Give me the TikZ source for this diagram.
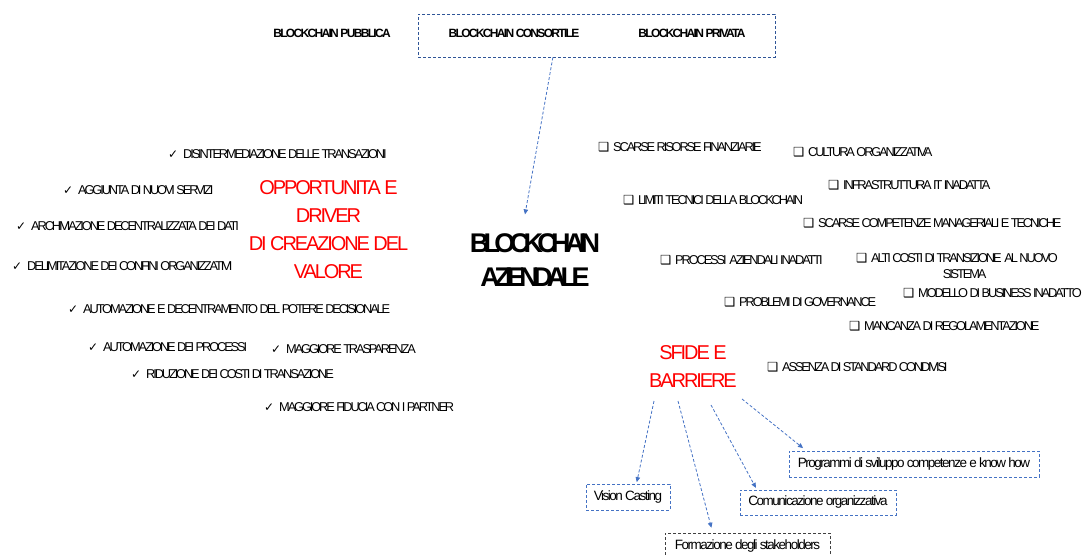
\documentclass[tikz,border=0pt]{standalone}
\usepackage{fontspec}
\setmainfont{Liberation Sans}
\newfontfamily\labfont[LetterSpace=-16.5]{Liberation Sans}
\newfontfamily\headfont[LetterSpace=-14]{Liberation Sans}
\newfontfamily\boxfont[LetterSpace=-11]{Liberation Sans}
\newfontfamily\redfont[LetterSpace=-10.5]{Liberation Sans}
\newfontfamily\mainfont[LetterSpace=-21]{Liberation Sans}
\newfontfamily\symfont{DejaVu Sans}
\usetikzlibrary{arrows.meta,calc}
\definecolor{flowblue}{RGB}{68,114,196}
\definecolor{frameblue}{RGB}{47,85,151}
\definecolor{framegray}{RGB}{64,64,64}
\definecolor{titlered}{RGB}{255,0,0}
\newcommand\itemtick{\makebox[15pt][l]{\symfont\fontsize{12}{14}\selectfont ✓}}
\newcommand\itemsquare{\makebox[15pt][l]{\symfont\fontsize{12.5}{14}\selectfont ❑}}
\begin{document}
\begin{tikzpicture}[x=1pt,y=-1pt,
  item/.style={anchor=base west,inner sep=0pt,font=\labfont\fontsize{12.8}{16}\selectfont},
  head/.style={inner sep=0pt,font=\headfont\bfseries\fontsize{12}{14}\selectfont},
  redtitle/.style={inner sep=0pt,align=center,text=titlered,font=\redfont\fontsize{20}{28}\selectfont},
  dashframe/.style={draw=frameblue,line width=0.8pt,dash pattern=on 3pt off 2pt},
  remedy/.style={draw=flowblue,line width=0.8pt,dash pattern=on 3pt off 2pt,inner sep=0pt,
    minimum height=26pt,font=\boxfont\fontsize{13.5}{15}\selectfont},
  flow/.style={draw=flowblue,line width=0.8pt,dash pattern=on 3pt off 2pt,
    -{Triangle[length=5pt,width=4.5pt]}}]
\useasboundingbox (0,0) rectangle (1084,556);

% blockchain types
\node[dashframe,minimum width=357pt,minimum height=43pt] (types) at (596.5,35.5) {};
\node[head] (pub) at (332,33) {BLOCKCHAIN PUBBLICA};
\node[head] (cons) at (514,33) {BLOCKCHAIN CONSORTILE};
\node[head] (priv) at (692,33) {BLOCKCHAIN PRIVATA};

% central topic
\node[inner sep=0pt,align=center,font=\mainfont\bfseries\fontsize{27}{34}\selectfont] (az) at (535,260)
  {BLOCKCHAIN\\AZIENDALE};
\draw[flow] ($(types.south west)!0.378!(types.south east)$) -- ($(az.north)+(-10,-19)$);

% opportunities
\node[redtitle] (opp) at (328.5,230) {OPPORTUNITA E\\DRIVER\\DI CREAZIONE DEL\\VALORE};
\node[item] (o1) at (168,158.6) {\itemtick DISINTERMEDIAZIONE DELLE TRANSAZIONI};
\node[item] (o2) at (63,194.6) {\itemtick AGGIUNTA DI NUOVI SERVIZI};
\node[item] (o3) at (16,230.6) {\itemtick ARCHIVIAZIONE DECENTRALIZZATA DEI DATI};
\node[item] (o4) at (12,270.6) {\itemtick DELIMITAZIONE DEI CONFINI ORGANIZZATIVI};
\node[item] (o5) at (68,313.1) {\itemtick AUTOMAZIONE E DECENTRAMENTO DEL POTERE DECISIONALE};
\node[item] (o6) at (88,351.6) {\itemtick AUTOMAZIONE DEI PROCESSI};
\node[item] (o7) at (271,353.6) {\itemtick MAGGIORE TRASPARENZA};
\node[item] (o8) at (131,378.6) {\itemtick RIDUZIONE DEI COSTI DI TRANSAZIONE};
\node[item] (o9) at (264,411.6) {\itemtick MAGGIORE FIDUCIA CON I PARTNER};

% challenges
\node[redtitle] (sf) at (693,367) {SFIDE E\\BARRIERE};
\node[item] (c1) at (598,151.6) {\itemsquare SCARSE RISORSE FINANZIARIE};
\node[item] (c2) at (793,156.3) {\itemsquare CULTURA ORGANIZZATIVA};
\node[item] (c3) at (828,189.8) {\itemsquare INFRASTRUTTURA IT INADATTA};
\node[item] (c4) at (623,204.3) {\itemsquare LIMITI TECNICI DELLA BLOCKCHAIN};
\node[item] (c5) at (803,227.3) {\itemsquare SCARSE COMPETENZE MANAGERIALI E TECNICHE};
\node[item] (c6) at (660,264.3) {\itemsquare PROCESSI\ \ AZIENDALI INADATTI};
\node[item] (c7) at (856,262.6) {\itemsquare\begin{tabular}[t]{@{}c@{}}ALTI COSTI DI TRANSIZIONE\ \ AL NUOVO\\SISTEMA\end{tabular}};
\node[item] (c8) at (903,297.6) {\itemsquare MODELLO DI BUSINESS INADATTO};
\node[item] (c9) at (724,306.6) {\itemsquare PROBLEMI DI GOVERNANCE};
\node[item] (c10) at (849,330.6) {\itemsquare MANCANZA DI REGOLAMENTAZIONE};
\node[item] (c11) at (767,371.6) {\itemsquare ASSENZA DI STANDARD CONDIVISI};

% remedies
\node[remedy,minimum width=84pt] (vision) at (628,497) {Vision Casting};
\node[remedy,draw=framegray,minimum width=165pt] (form) at (747.5,546) {Formazione degli stakeholders};
\node[remedy,minimum width=156pt,minimum height=25pt] (comm) at (818,502.5) {Comunicazione organizzativa};
\node[remedy,minimum width=250pt] (prog) at (914,464) {Programmi di sviluppo competenze e know how};

\coordinate (s1) at (654,401);
\coordinate (s2) at (678,401);
\coordinate (s3) at (711,405);
\coordinate (s4) at (742,399);
\draw[flow,shorten >=1.5pt] (s1) -- ($(vision.north west)!0.6!(vision.north east)$);
\draw[flow,shorten >=5pt] (s2) -- ($(form.north west)!0.29!(form.north east)$);
\draw[flow,shorten >=2pt] (s3) -- ($(comm.north west)!0.11!(comm.north east)$);
\draw[flow,shorten >=4pt] (s4) -- ($(prog.north west)!0.07!(prog.north east)$);
\end{tikzpicture}
\end{document}
